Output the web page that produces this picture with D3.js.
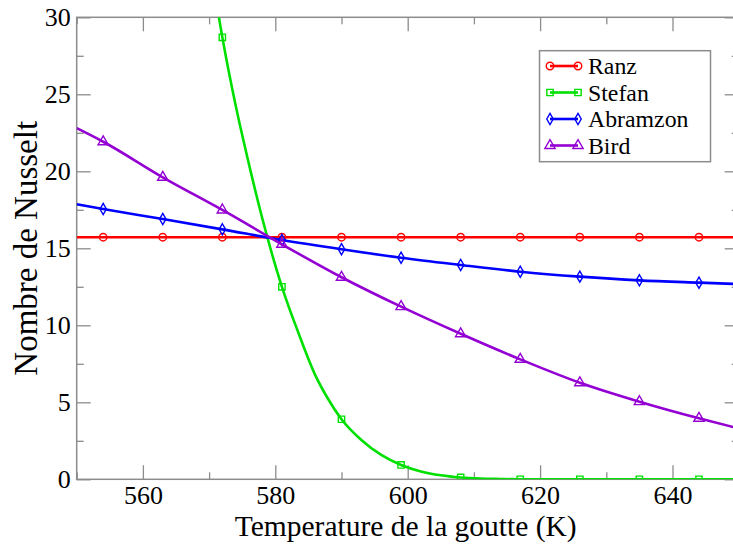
<!DOCTYPE html>
<html>
<head>
<meta charset="utf-8">
<script src="https://cdn.jsdelivr.net/npm/d3@7"></script>
<style>
  body { margin: 0; background: #fff; }
  svg { display: block; font-family: 'Liberation Serif', 'Times New Roman', serif; }
  svg text { font-family: 'Liberation Serif', 'Times New Roman', serif; }
  .frame { fill: none; stroke: #8c8c8c; stroke-width: 1.5; }
  .axis path { display: none; }
  .axis line { stroke: #8c8c8c; stroke-width: 1.3; }
</style>
</head>
<body>
<svg id="chart" width="733" height="545"></svg>
<script>
// values
const tempGrid = [550, 554, 563, 572, 581, 590, 599, 608, 617, 626, 635, 644, 650];
const markerTemps = [554, 563, 572, 581, 590, 599, 608, 617, 626, 635, 644];

const ranzNu = [15.72, 15.72, 15.72, 15.72, 15.72, 15.72, 15.72, 15.72, 15.72, 15.72, 15.72, 15.72, 15.72];
const abramzonNu = [17.86, 17.55, 16.9, 16.23, 15.54, 14.94, 14.39, 13.92, 13.48, 13.16, 12.92, 12.77, 12.68];
const birdNu = [22.8, 21.92, 19.61, 17.49, 15.26, 13.12, 11.21, 9.45, 7.79, 6.27, 5.04, 3.96, 3.3];

const stefanT = [570, 572, 574, 576, 578, 581, 583.5, 586, 588, 590, 593, 596, 599, 602, 605, 608, 611, 614, 617, 626, 635, 644, 650];
const stefanNu = [34, 28.7, 24.3, 20.5, 17.0, 12.5, 9.5, 6.8, 5.2, 3.9, 2.55, 1.58, 0.93, 0.51, 0.26, 0.12, 0.05, 0.02, 0, 0, 0, 0, 0];

const xTicks = [560, 580, 600, 620, 640];
const xMinor = [550, 570, 590, 610, 630, 650];
const yTicks = [0, 5, 10, 15, 20, 25, 30];
const yMinor = [2.5, 7.5, 12.5, 17.5, 22.5, 27.5];

const series = [
  { name: "Ranz", color: "#ff0000", symbol: d3.symbolCircle, size: 44, t: tempGrid, v: ranzNu },
  { name: "Stefan", color: "#00e000", symbol: d3.symbolSquare, size: 40, t: stefanT, v: stefanNu },
  { name: "Abramzon", color: "#0000ff", symbol: d3.symbolDiamond, size: 36, t: tempGrid, v: abramzonNu },
  { name: "Bird", color: "#9400d3", symbol: d3.symbolTriangle, size: 46, t: tempGrid, v: birdNu }
];

const serif = "'Liberation Serif', 'Times New Roman', serif";
const svg = d3.select("#chart");
const plotL = 76.7, plotR = 738.7, plotT = 17.3, plotB = 479.3;

const x = d3.scaleLinear().domain([550, 650]).range([plotL, plotR]);
const y = d3.scaleLinear().domain([0, 30]).range([plotB, plotT]);

svg.append("defs").append("clipPath").attr("id", "plotClip")
  .append("rect")
  .attr("x", plotL).attr("y", plotT)
  .attr("width", plotR - plotL).attr("height", plotB - plotT);

function styleLabels(g) {
  g.attr("font-family", null);
  g.selectAll("text")
    .style("font-family", serif)
    .style("font-size", "26px")
    .attr("fill", "#000");
}

// ticks (inward, on all four sides)
svg.append("g").attr("class", "axis")
  .attr("transform", `translate(0,${plotB})`)
  .call(d3.axisBottom(x).tickValues(xTicks).tickSize(-14).tickSizeOuter(0).tickPadding(6).tickFormat(d3.format("d")))
  .call(styleLabels);
svg.append("g").attr("class", "axis")
  .attr("transform", `translate(0,${plotB})`)
  .call(d3.axisBottom(x).tickValues(xMinor).tickSize(-7).tickSizeOuter(0).tickFormat(""));
svg.append("g").attr("class", "axis")
  .attr("transform", `translate(0,${plotT})`)
  .call(d3.axisTop(x).tickValues(xTicks).tickSize(-14).tickSizeOuter(0).tickFormat(""));
svg.append("g").attr("class", "axis")
  .attr("transform", `translate(0,${plotT})`)
  .call(d3.axisTop(x).tickValues(xMinor).tickSize(-7).tickSizeOuter(0).tickFormat(""));

svg.append("g").attr("class", "axis")
  .attr("transform", `translate(${plotL},0)`)
  .call(d3.axisLeft(y).tickValues(yTicks).tickSize(-14).tickSizeOuter(0).tickPadding(6).tickFormat(d3.format("d")))
  .call(styleLabels);
svg.append("g").attr("class", "axis")
  .attr("transform", `translate(${plotL},0)`)
  .call(d3.axisLeft(y).tickValues(yMinor).tickSize(-7).tickSizeOuter(0).tickFormat(""));
svg.append("g").attr("class", "axis")
  .attr("transform", `translate(${plotR},0)`)
  .call(d3.axisRight(y).tickValues(yTicks).tickSize(-14).tickSizeOuter(0).tickFormat(""));
svg.append("g").attr("class", "axis")
  .attr("transform", `translate(${plotR},0)`)
  .call(d3.axisRight(y).tickValues(yMinor).tickSize(-7).tickSizeOuter(0).tickFormat(""));

svg.append("rect").attr("class", "frame")
  .attr("x", plotL).attr("y", plotT)
  .attr("width", plotR - plotL).attr("height", plotB - plotT);

// curves
const plot = svg.append("g").attr("clip-path", "url(#plotClip)");
const line = d3.line()
  .x(d => x(d[0]))
  .y(d => y(d[1]))
  .curve(d3.curveMonotoneX);

series.forEach(s => {
  const pts = s.t.map((t, i) => [t, s.v[i]]);
  plot.append("path")
    .datum(pts)
    .attr("fill", "none")
    .attr("stroke", s.color)
    .attr("stroke-width", 2.6)
    .attr("d", line);

  const marks = pts.filter(p => markerTemps.includes(p[0]) && p[1] <= 30);
  plot.selectAll(null)
    .data(marks)
    .enter()
    .append("path")
    .attr("transform", d => `translate(${x(d[0])},${y(d[1])})`)
    .attr("d", d3.symbol().type(s.symbol).size(s.size))
    .attr("fill", "none")
    .attr("stroke", s.color)
    .attr("stroke-width", 1.4);
});

// legend
const legend = svg.append("g");
legend.append("rect")
  .attr("x", 539.5).attr("y", 50.7)
  .attr("width", 171).attr("height", 111)
  .attr("fill", "#fff")
  .attr("stroke", "#8c8c8c")
  .attr("stroke-width", 1.5);

series.forEach((s, i) => {
  const cy = 66 + i * 26.5;
  const g = legend.append("g");
  g.append("line")
    .attr("x1", 550).attr("x2", 578)
    .attr("y1", cy).attr("y2", cy)
    .attr("stroke", s.color).attr("stroke-width", 2.6);
  [550, 578].forEach(px => {
    g.append("path")
      .attr("transform", `translate(${px},${cy})`)
      .attr("d", d3.symbol().type(s.symbol).size(s.size))
      .attr("fill", "none")
      .attr("stroke", s.color)
      .attr("stroke-width", 1.4);
  });
  g.append("text")
    .attr("x", 588)
    .attr("y", cy + 8)
    .style("font-family", serif)
    .style("font-size", "23.8px")
    .text(s.name);
});

// axis titles
svg.append("text")
  .attr("x", (plotL + plotR) / 2 - 2)
  .attr("y", 536)
  .attr("text-anchor", "middle")
  .style("font-family", serif)
  .style("font-size", "29.5px")
  .text("Temperature de la goutte (K)");

svg.append("text")
  .attr("transform", `translate(37,${(plotT + plotB) / 2}) rotate(-90)`)
  .attr("text-anchor", "middle")
  .style("font-family", serif)
  .style("font-size", "33px")
  .text("Nombre de Nusselt");
</script>
</body>
</html>
